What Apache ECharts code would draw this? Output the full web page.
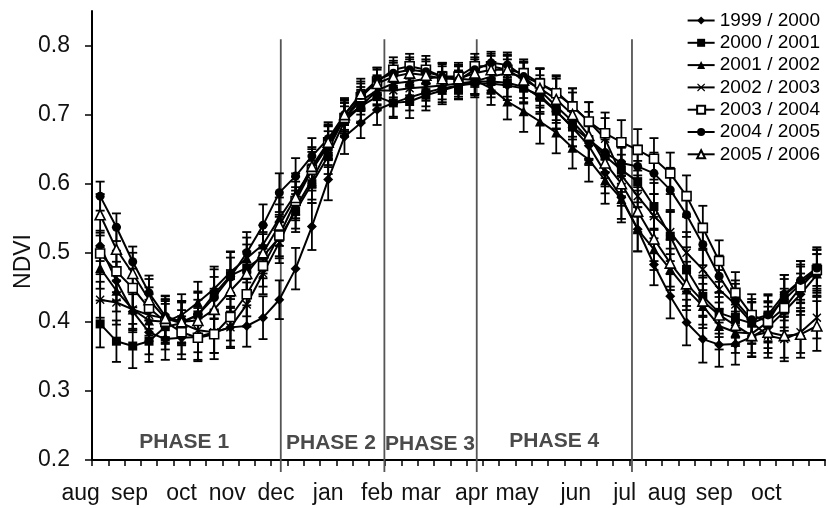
<!DOCTYPE html>
<html><head><meta charset="utf-8">
<script src="https://cdn.jsdelivr.net/npm/echarts@6/dist/echarts.min.js"></script>
<style>html,body{margin:0;padding:0;background:#fff}#c{width:828px;height:508px}</style>
</head><body><div id="c"></div>
<script>
// ---------- DATA ----------
const months = ['Aug','Sep','Oct','Nov','Dec','Jan','Feb','Mar','Apr','May','Jun','Jul','Aug2','Sep2','Oct2'];
const categories = [];
months.forEach(m => { for (let d = 1; d <= 3; d++) categories.push(m + '-D' + d); });

const seriesNames = ['1999 / 2000','2000 / 2001','2001 / 2002','2002 / 2003','2003 / 2004','2004 / 2005','2005 / 2006'];

const ndvi1999 = [0.510,0.459,0.415,0.385,0.375,0.377,0.378,0.385,0.392,0.394,0.406,0.432,
  0.477,0.538,0.606,0.668,0.688,0.707, 0.717,0.725,0.732,0.738,0.742,0.745,
  0.745,0.742,0.738,0.728,0.705,0.681, 0.655,0.616,0.580,0.534,0.483,0.437,
  0.399,0.375,0.367,0.368,0.378,0.392, 0.415,0.440,0.468];
const ndvi2000 = [0.397,0.372,0.365,0.372,0.393,0.398,0.410,0.440,0.467,0.478,0.495,0.522,
  0.560,0.600,0.640,0.690,0.712,0.726, 0.717,0.719,0.728,0.735,0.742,0.748,
  0.748,0.746,0.740,0.725,0.705,0.682, 0.664,0.640,0.620,0.603,0.567,0.524,
  0.476,0.437,0.413,0.405,0.398,0.408, 0.432,0.455,0.478];
const ndvi2001 = [0.478,0.445,0.418,0.402,0.400,0.410,0.428,0.448,0.472,0.492,0.512,0.550,
  0.585,0.620,0.655,0.695,0.712,0.735, 0.745,0.748,0.752,0.755,0.752,0.750,
  0.738,0.719,0.705,0.690,0.674,0.652, 0.635,0.605,0.578,0.534,0.505,0.476,
  0.447,0.423,0.394,0.385,0.383,0.400, 0.438,0.458,0.470];
const ndvi2002 = [0.432,0.428,0.418,0.410,0.405,0.398,0.388,0.385,0.392,0.425,0.470,0.515,
  0.565,0.605,0.650,0.695,0.720,0.735, 0.735,0.738,0.740,0.742,0.745,0.748,
  0.755,0.760,0.755,0.745,0.733,0.712, 0.690,0.665,0.612,0.582,0.553,0.530,
  0.500,0.476,0.447,0.425,0.399,0.380, 0.375,0.385,0.406];
const ndvi2003 = [0.499,0.473,0.449,0.420,0.400,0.385,0.377,0.382,0.407,0.440,0.481,0.525,
  0.575,0.620,0.660,0.695,0.725,0.748, 0.765,0.770,0.765,0.755,0.755,0.770,
  0.770,0.765,0.760,0.745,0.731,0.712, 0.690,0.673,0.660,0.649,0.636,0.615,
  0.582,0.536,0.488,0.442,0.410,0.400, 0.420,0.450,0.475];
const ndvi2004 = [0.582,0.537,0.487,0.442,0.408,0.400,0.410,0.435,0.465,0.500,0.540,0.587,
  0.611,0.640,0.665,0.700,0.728,0.750, 0.760,0.765,0.762,0.755,0.750,0.765,
  0.775,0.772,0.755,0.735,0.712,0.690, 0.664,0.645,0.630,0.625,0.615,0.591,
  0.555,0.512,0.466,0.430,0.403,0.410, 0.440,0.460,0.478];
const ndvi2005 = [0.555,0.505,0.470,0.432,0.405,0.400,0.402,0.418,0.445,0.470,0.500,0.540,
  0.580,0.625,0.660,0.700,0.730,0.745, 0.755,0.760,0.757,0.752,0.752,0.760,
  0.765,0.765,0.750,0.738,0.722,0.700, 0.670,0.630,0.600,0.560,0.520,0.485,
  0.455,0.430,0.410,0.395,0.380,0.385, 0.380,0.382,0.394];

// error bar half-widths (+/-)
const err1999 = [0.022,0.028,0.030,0.032,0.030,0.031,0.033,0.030,0.028,0.030,0.031,0.028,
  0.030,0.034,0.030,0.025,0.022,0.022, 0.020,0.019,0.020,0.020,0.019,0.020,
  0.020,0.021,0.022,0.024,0.025,0.027, 0.028,0.030,0.031,0.032,0.030,0.032,
  0.033,0.034,0.032,0.030,0.029,0.030, 0.028,0.030,0.030];
const err2000 = [0.034,0.030,0.032,0.030,0.033,0.032,0.034,0.036,0.034,0.034,0.032,0.030,
  0.030,0.028,0.026,0.022,0.022,0.020, 0.022,0.024,0.022,0.020,0.020,0.018,
  0.018,0.020,0.022,0.024,0.026,0.028, 0.030,0.032,0.032,0.030,0.034,0.036,
  0.032,0.030,0.030,0.028,0.030,0.030, 0.030,0.028,0.026];
const err2001 = [0.030,0.030,0.028,0.030,0.032,0.030,0.030,0.032,0.030,0.030,0.028,0.030,
  0.030,0.030,0.028,0.025,0.024,0.022, 0.020,0.020,0.018,0.018,0.020,0.022,
  0.024,0.026,0.030,0.032,0.030,0.030, 0.032,0.034,0.034,0.032,0.030,0.030,
  0.030,0.032,0.034,0.030,0.028,0.030, 0.030,0.030,0.028];
const err2002 = [0.026,0.032,0.030,0.030,0.028,0.030,0.032,0.030,0.030,0.032,0.030,0.030,
  0.030,0.028,0.026,0.022,0.020,0.020, 0.020,0.020,0.020,0.020,0.019,0.018,
  0.020,0.020,0.022,0.022,0.024,0.026, 0.028,0.030,0.030,0.030,0.032,0.032,
  0.030,0.030,0.028,0.030,0.030,0.032, 0.032,0.030,0.030];
const err2003 = [0.030,0.030,0.028,0.030,0.030,0.032,0.034,0.036,0.034,0.032,0.030,0.030,
  0.028,0.026,0.024,0.022,0.020,0.020, 0.018,0.018,0.020,0.020,0.020,0.018,
  0.018,0.020,0.020,0.022,0.024,0.026, 0.028,0.030,0.032,0.030,0.030,0.030,
  0.030,0.032,0.030,0.030,0.030,0.028, 0.028,0.030,0.030];
const err2004 = [0.021,0.020,0.022,0.025,0.030,0.030,0.032,0.030,0.028,0.030,0.030,0.028,
  0.026,0.026,0.024,0.022,0.020,0.018, 0.018,0.018,0.018,0.020,0.020,0.018,
  0.016,0.018,0.020,0.022,0.024,0.026, 0.028,0.028,0.030,0.030,0.030,0.032,
  0.032,0.030,0.030,0.030,0.030,0.030, 0.028,0.028,0.030];
const err2005 = [0.030,0.032,0.030,0.030,0.032,0.030,0.030,0.030,0.030,0.032,0.030,0.030,
  0.030,0.028,0.026,0.024,0.022,0.020, 0.020,0.020,0.020,0.018,0.018,0.020,
  0.020,0.022,0.026,0.028,0.030,0.032, 0.034,0.034,0.032,0.030,0.032,0.034,
  0.032,0.034,0.032,0.030,0.030,0.030, 0.032,0.034,0.036];

const yTickValues = [0.2,0.3,0.4,0.5,0.6,0.7,0.8];
const monthLabels = ['aug','sep','oct','nov','dec','jan','feb','mar','apr','may','jun','jul','aug','sep','oct'];
const monthLabelPos = [-1.2,1.8,5.0,7.8,10.8,14.0,17.0,19.7,22.8,25.6,29.2,32.2,34.8,37.7,40.9];
const phaseNames = ['PHASE 1','PHASE 2','PHASE 3','PHASE 4'];
const phaseLabelPos = [5.16,14.17,20.25,27.88];
const phaseLabelY = [0.2263,0.2242,0.2228,0.2270];
const phaseBoundaries = [11.09,17.45,23.12,32.65];
const phaseLineRange = [0.1825,0.809];

// ---------- CHART ----------
const FONT = '"Liberation Sans", Arial, sans-serif';
const ndviData = [ndvi1999, ndvi2000, ndvi2001, ndvi2002, ndvi2003, ndvi2004, ndvi2005];
const errData = [err1999, err2000, err2001, err2002, err2003, err2004, err2005];
const crossPath = 'path://M1,0 L5,3.8 L9,0 L10,1.2 L6.2,5 L10,8.8 L9,10 L5,6.2 L1,10 L0,8.8 L3.8,5 L0,1.2 Z';
const symbols = ['diamond','rect','triangle',crossPath,'rect','circle','triangle'];
const symbolSizes = [10,9,10,9,9,9,10];
const hollow = [false,false,false,false,true,false,true];

const series = [];
seriesNames.forEach((name, k) => {
  series.push({
    type: 'custom', name: name + ' err', xAxisIndex: 0, yAxisIndex: 0, z: 2, silent: true,
    data: ndviData[k].map((v, i) => [i, v - errData[k][i], v + errData[k][i]]),
    encode: { x: 0, y: [1, 2] },
    renderItem: (params, api) => {
      const x = api.value(0);
      const lo = api.coord([x, api.value(1)]);
      const hi = api.coord([x, api.value(2)]);
      const hw = 4.5;
      const st = { stroke: '#000', lineWidth: 1.8 };
      return { type: 'group', children: [
        { type: 'line', shape: { x1: lo[0], y1: lo[1], x2: hi[0], y2: hi[1] }, style: st },
        { type: 'line', shape: { x1: lo[0]-hw, y1: lo[1], x2: lo[0]+hw, y2: lo[1] }, style: st },
        { type: 'line', shape: { x1: hi[0]-hw, y1: hi[1], x2: hi[0]+hw, y2: hi[1] }, style: st }
      ]};
    }
  });
  series.push({
    type: 'line', name: name, xAxisIndex: 0, yAxisIndex: 0, z: 3,
    data: ndviData[k], symbol: symbols[k], symbolSize: symbolSizes[k], showAllSymbol: true,
    lineStyle: { color: '#000', width: 2 },
    itemStyle: { color: hollow[k] ? '#fff' : '#000', borderColor: '#000', borderWidth: hollow[k] ? 1.6 : 0 },
    emphasis: { disabled: true }
  });
});

series.push({
  type: 'custom', name: 'phaseLines', xAxisIndex: 1, yAxisIndex: 0, clip: false, silent: true, z: 1,
  data: phaseBoundaries.map(b => [b, phaseLineRange[0], phaseLineRange[1]]),
  encode: { x: 0, y: [1, 2] },
  renderItem: (params, api) => {
    const a = api.coord([api.value(0), api.value(1)]);
    const b = api.coord([api.value(0), api.value(2)]);
    return { type: 'line', shape: { x1: a[0], y1: a[1], x2: b[0], y2: b[1] }, style: { stroke: '#555', lineWidth: 1.8 } };
  }
});
series.push({
  type: 'custom', name: 'phaseLabels', xAxisIndex: 1, yAxisIndex: 0, clip: false, silent: true, z: 4,
  data: phaseLabelPos.map((p, i) => [p, phaseLabelY[i]]),
  encode: { x: 0, y: 1 },
  renderItem: (params, api) => {
    const p = api.coord([api.value(0), api.value(1)]);
    return { type: 'text', x: p[0], y: p[1], style: { text: phaseNames[params.dataIndex], fill: '#4a4a4a',
      font: 'bold 21px ' + FONT, align: 'center', verticalAlign: 'middle' } };
  }
});
series.push({
  type: 'custom', name: 'monthLabels', xAxisIndex: 1, yAxisIndex: 0, clip: false, silent: true, z: 4,
  data: monthLabelPos.map(p => [p, yTickValues[0]]),
  encode: { x: 0, y: 1 },
  renderItem: (params, api) => {
    const p = api.coord([api.value(0), api.value(1)]);
    return { type: 'text', x: p[0], y: p[1] + 34, style: { text: monthLabels[params.dataIndex], fill: '#111',
      font: '23px ' + FONT, align: 'center', verticalAlign: 'middle' } };
  }
});

const chart = echarts.init(document.getElementById('c'), null, { renderer: 'canvas' });
chart.setOption({
  animation: false,
  backgroundColor: '#fff',
  grid: { left: 92, right: 3, top: 11, bottom: 48, containLabel: false },
  legend: {
    data: seriesNames, orient: 'vertical', right: 3, top: 6,
    itemWidth: 27, itemHeight: 10, itemGap: 3.3,
    textStyle: { fontSize: 19, color: '#000', fontFamily: FONT, lineHeight: 18 },
    selectedMode: false
  },
  xAxis: [
    { type: 'category', data: categories, boundaryGap: true,
      axisLine: { onZero: false, lineStyle: { color: '#000', width: 2 } },
      axisTick: { show: true, interval: 0, length: 6, lineStyle: { color: '#000', width: 1.5 } },
      axisLabel: { show: false }, splitLine: { show: false } },
    { type: 'value', min: -0.5, max: 44.5, show: false, axisLine: { onZero: false } }
  ],
  yAxis: {
    type: 'value', min: 0.2, max: 0.85, interval: 0.1,
    name: 'NDVI', nameLocation: 'middle', nameGap: 57, nameMoveOverlap: false,
    nameTextStyle: { fontSize: 23, color: '#111', fontFamily: FONT, padding: [0, 52, 0, 0] },
    axisLine: { show: true, onZero: false, lineStyle: { color: '#000', width: 2 } },
    axisTick: { show: true, length: 7, customValues: yTickValues, lineStyle: { color: '#000', width: 1.5 } },
    axisLabel: { fontSize: 23, color: '#111', fontFamily: FONT, margin: 22, customValues: yTickValues,
      formatter: v => (Math.abs(v - 0.85) < 1e-6 ? '' : v.toFixed(1)) },
    splitLine: { show: false }
  },
  series: series
});
</script></body></html>
